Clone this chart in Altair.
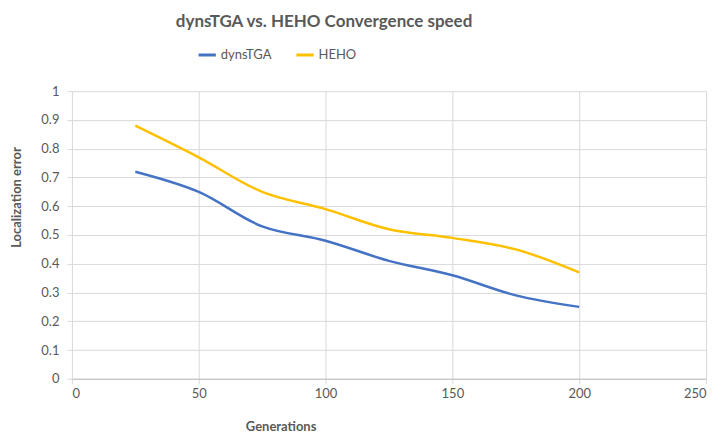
import altair as alt
import pandas as pd

generations = [25, 50, 75, 100, 125, 150, 175, 200]
dynstga = [0.72, 0.65, 0.53, 0.48, 0.41, 0.36, 0.29, 0.25]
heho = [0.88, 0.77, 0.65, 0.59, 0.52, 0.49, 0.45, 0.37]
series_names = ["dynsTGA", "HEHO"]
series_colors = ["#4472C4", "#FFC000"]

rows = []
for g, a, b in zip(generations, dynstga, heho):
    rows.append({"Generations": g, "value": a, "series": series_names[0]})
    rows.append({"Generations": g, "value": b, "series": series_names[1]})
df = pd.DataFrame(rows)

FONT = "Lato"
GRAY = "#595959"

chart = alt.Chart(df).mark_line(interpolate="catmull-rom", strokeWidth=2.5).encode(
    x=alt.X("Generations:Q",
            scale=alt.Scale(domain=[0, 250], nice=False),
            axis=alt.Axis(values=[0, 50, 100, 150, 200, 250], title="Generations",
                          titleX=209, titleY=48, titleBaseline="middle")),
    y=alt.Y("value:Q",
            scale=alt.Scale(domain=[0, 1], nice=False),
            axis=alt.Axis(values=[0, 0.1, 0.2, 0.3, 0.4, 0.5, 0.6, 0.7, 0.8, 0.9, 1.0],
                          format=".1~f", title="Localization error",
                          titleX=-55, titleY=106, titleBaseline="middle", titleAngle=-90)),
    color=alt.Color("series:N",
                    scale=alt.Scale(domain=series_names, range=series_colors),
                    legend=alt.Legend(title=None, orient="none", direction="horizontal",
                                      legendX=125, legendY=-47, symbolType="stroke",
                                      symbolSize=300, symbolStrokeWidth=3,
                                      labelFont=FONT, labelFontSize=13, labelColor=GRAY,
                                      columnPadding=18, labelOffset=3)),
).properties(
    width=635,
    height=288,
    autosize=alt.AutoSizeParams(type="none"),
    padding={"left": 64, "top": 83, "right": 10, "bottom": 60},
    title=alt.TitleParams("dynsTGA vs. HEHO Convergence speed", font=FONT, fontSize=17,
                          fontWeight="bold", color=GRAY, anchor="middle", dx=-65, offset=13),
).configure_view(
    stroke=None
).configure_axis(
    labelFont=FONT, labelFontSize=13, labelColor=GRAY,
    titleFont=FONT, titleFontSize=13, titleColor=GRAY, titleFontWeight="bold",
    gridColor="#d9d9d9", tickColor="#d9d9d9", tickSize=5, domain=False,
).configure_axisX(
    domain=True, domainColor="#bfbfbf", labelPadding=4,
).configure_axisY(
    labelPadding=8,
)

chart.save("out.html", embed_options={"renderer": "svg", "actions": False})
